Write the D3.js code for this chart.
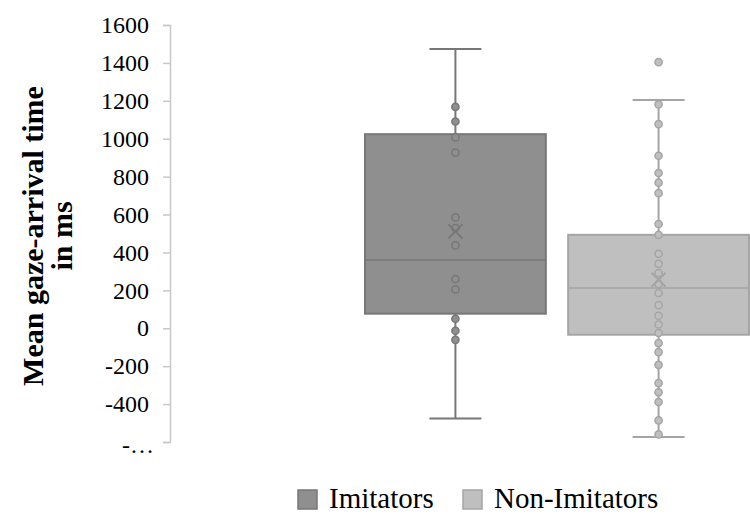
<!DOCTYPE html>
<html>
<head>
<meta charset="utf-8">
<script src="https://cdn.jsdelivr.net/npm/d3@7"></script>
<style>
  body { margin: 0; background: #fff; }
  svg text { font-family: "Liberation Serif", "Times New Roman", serif; }
</style>
</head>
<body>
<div id="chart"></div>
<script>
// Box-plot data
const groups = ["Imitators", "Non-Imitators"];
const whiskerLow = [-476, -574];
const q1 = [77, -34];
const median = [360, 212];
const q3 = [1024, 493];
const whiskerHigh = [1473, 1204];
const means = [511, 256];
const pointsImitators = [1168, 1091, 1007, 927, 585, 529, 437, 260, 205, 50, -13, -61];
const pointsNonImitators = [1404, 1181, 1077, 910, 819, 768, 713, 550, 493, 393, 340, 291,
  233, 186, 122, 66, 20, -25, -78, -126, -193, -289, -338, -389, -486, -560];
const yTicks = [1600, 1400, 1200, 1000, 800, 600, 400, 200, 0, -200, -400, -600];

const fills = ["#8f8f8f", "#bfbfbf"];
const strokes = ["#777777", "#a5a5a5"];

const width = 750, height = 514;
const margin = { top: 25, left: 170 };

const svg = d3.select("#chart")
  .append("svg")
  .attr("width", width)
  .attr("height", height);

const y = d3.scaleLinear()
  .domain([-600, 1600])
  .range([442, 25]);

const x = d3.scaleBand()
  .domain(groups)
  .range([365, 749])
  .paddingInner(0.11)
  .paddingOuter(0);

// y axis
const axis = svg.append("g")
  .attr("transform", "translate(" + margin.left + ",0)")
  .call(d3.axisLeft(y).tickValues(yTicks).tickSize(7).tickPadding(14)
    .tickFormat(function (d) { return d === -600 ? "-\u2026" : d; }))
  .attr("font-family", "Liberation Serif, serif")
  .attr("font-size", 24);
axis.select(".domain").attr("stroke", "#c8c8c8").attr("stroke-width", 1.5);
axis.selectAll(".tick line").attr("stroke", "#c8c8c8").attr("stroke-width", 1.5);
axis.selectAll(".tick text")
  .attr("fill", "#000")
  .style("font-family", "Liberation Serif, serif")
  .style("font-size", "24px");
axis.selectAll(".tick").filter(function (d) { return d === -600; })
  .select("text").attr("dy", "0.45em").attr("x", -16);

// y axis title
const title = svg.append("text")
  .attr("transform", "translate(43,236) rotate(-90)")
  .attr("text-anchor", "middle")
  .style("font-size", "30px")
  .style("font-weight", "bold");
title.append("tspan").attr("x", 0).attr("dy", 0).text("Mean gaze-arrival time");
title.append("tspan").attr("x", 0).attr("dy", 29).text("in ms");

const allPoints = [pointsImitators, pointsNonImitators];

groups.forEach(function (g, i) {
  const cx = x(g) + x.bandwidth() / 2;
  const capW = 52;
  const grp = svg.append("g").attr("class", "box");

  // whisker line
  grp.append("line")
    .attr("x1", cx).attr("x2", cx)
    .attr("y1", y(whiskerLow[i])).attr("y2", y(whiskerHigh[i]))
    .attr("stroke", strokes[i]).attr("stroke-width", 2);
  [whiskerLow[i], whiskerHigh[i]].forEach(function (v) {
    grp.append("line")
      .attr("x1", cx - capW / 2).attr("x2", cx + capW / 2)
      .attr("y1", y(v)).attr("y2", y(v))
      .attr("stroke", strokes[i]).attr("stroke-width", 2);
  });

  // box
  grp.append("rect")
    .attr("x", x(g))
    .attr("y", y(q3[i]))
    .attr("width", x.bandwidth())
    .attr("height", y(q1[i]) - y(q3[i]))
    .attr("fill", fills[i])
    .attr("stroke", strokes[i])
    .attr("stroke-width", 2);

  grp.append("line")
    .attr("x1", x(g)).attr("x2", x(g) + x.bandwidth())
    .attr("y1", y(median[i])).attr("y2", y(median[i]))
    .attr("stroke", strokes[i]).attr("stroke-width", 1.5);

  // points
  grp.selectAll(".pt")
    .data(allPoints[i])
    .enter()
    .append("circle")
    .attr("class", "pt")
    .attr("cx", cx)
    .attr("cy", function (d) { return y(d); })
    .attr("r", 3.6)
    .attr("fill", fills[i])
    .attr("stroke", strokes[i])
    .attr("stroke-width", 1.5);

  // mean marker
  const my = y(means[i]), s = 7;
  grp.append("path")
    .attr("d", "M" + (cx - s) + "," + (my - s) + "L" + (cx + s) + "," + (my + s) +
      "M" + (cx - s) + "," + (my + s) + "L" + (cx + s) + "," + (my - s))
    .attr("stroke", strokes[i])
    .attr("stroke-width", 2)
    .attr("fill", "none");
});

// legend
const legend = svg.append("g").attr("class", "legend");
const legX = [297, 462];
groups.forEach(function (g, i) {
  legend.append("rect")
    .attr("x", legX[i] + 1).attr("y", 490)
    .attr("width", 19).attr("height", 19)
    .attr("fill", fills[i])
    .attr("stroke", strokes[i])
    .attr("stroke-width", 1.5);
  legend.append("text")
    .attr("x", legX[i] + 32)
    .attr("y", 508)
    .style("font-size", "29px")
    .text(g);
});
</script>
</body>
</html>
